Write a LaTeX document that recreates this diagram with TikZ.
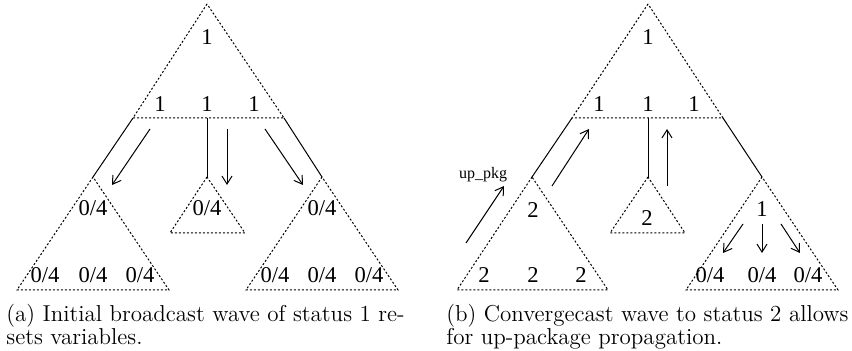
\documentclass[tikz,border=0pt]{standalone}
\usepackage{fontspec}
\newfontfamily\figfont{Liberation Serif}
\usetikzlibrary{arrows.meta}
\tikzset{
  tri/.style={line width=0.5pt, dash pattern=on 1pt off 1pt},
  edge/.style={line width=0.5pt},
  msg/.style={line width=0.5pt, -{Straight Barb[length=4pt,width=5pt]}},
  lab/.style={font=\figfont\fontsize{11.3}{12}\selectfont, inner sep=0pt},
  smalllab/.style={font=\figfont\fontsize{8}{9}\selectfont, inner sep=0pt},
  captext/.style={font=\fontsize{11.5}{14}\selectfont, inner sep=0pt, anchor=base west},
}
\begin{document}
\begin{tikzpicture}[x=0.5pt,y=-0.5pt]
\useasboundingbox (0,0) rectangle (852,351);
% ---------- panel (a)
\begin{scope}
\coordinate (A) at (207,4);
\coordinate (AL) at (133,118);
\coordinate (AR) at (284,118);
\coordinate (AM) at (207,118);
\draw[tri] (A) -- (AL) -- (AR) -- cycle;
\node[lab] (a1) at (207,37) {1};
\node[lab] (a2) at (160,104) {1};
\node[lab] (a3) at (207,104) {1};
\node[lab] (a4) at (254,104) {1};
% subtrees
\coordinate (L) at (93,177); \coordinate (LL) at (17,290); \coordinate (LR) at (169,290);
\coordinate (C) at (207,177); \coordinate (CL) at (170,233); \coordinate (CR) at (245,233);
\coordinate (R) at (322,177); \coordinate (RL) at (246,290); \coordinate (RR) at (398,290);
\draw[tri] (L) -- (LL) -- (LR) -- cycle;
\draw[tri] (C) -- (CL) -- (CR) -- cycle;
\draw[tri] (R) -- (RL) -- (RR) -- cycle;
\draw[edge] (AL) -- (L);
\draw[edge] (AM) -- (C);
\draw[edge] (AR) -- (R);
\node[lab] (l1) at (93,208) {0/4};
\node[lab] (l2) at (45,275) {0/4};
\node[lab] (l3) at (93,275) {0/4};
\node[lab] (l4) at (140,275) {0/4};
\node[lab] (c1) at (207,208) {0/4};
\node[lab] (r1) at (322,208) {0/4};
\node[lab] (r2) at (275,275) {0/4};
\node[lab] (r3) at (322,275) {0/4};
\node[lab] (r4) at (369,275) {0/4};
\coordinate (m1s) at (150,129); \coordinate (m1e) at (112,185);
\coordinate (m2s) at (227,129); \coordinate (m2e) at (227,185);
\coordinate (m3s) at (265,129); \coordinate (m3e) at (303,185);
\draw[msg] (m1s) -- (m1e);
\draw[msg] (m2s) -- (m2e);
\draw[msg] (m3s) -- (m3e);
\node[captext] (capa1) at (6,322) {(a) Initial broadcast wave of status 1 re-};
\node[captext] (capa2) at (6,345) {sets variables.};
\end{scope}
% ---------- panel (b)
\begin{scope}
\coordinate (B) at (648,4);
\coordinate (BL) at (572,118);
\coordinate (BR) at (723,118);
\coordinate (BM) at (648,118);
\draw[tri] (B) -- (BL) -- (BR) -- cycle;
\node[lab] (b1) at (648,37) {1};
\node[lab] (b2) at (599,104) {1};
\node[lab] (b3) at (648,104) {1};
\node[lab] (b4) at (694,104) {1};
\coordinate (L2) at (532,177); \coordinate (L2L) at (457,290); \coordinate (L2R) at (608,290);
\coordinate (C2) at (648,177); \coordinate (C2L) at (610,233); \coordinate (C2R) at (685,233);
\coordinate (R2) at (762,177); \coordinate (R2L) at (686,290); \coordinate (R2R) at (838,290);
\draw[tri] (L2) -- (L2L) -- (L2R) -- cycle;
\draw[tri] (C2) -- (C2L) -- (C2R) -- cycle;
\draw[tri] (R2) -- (R2L) -- (R2R) -- cycle;
\draw[edge] (BL) -- (L2);
\draw[edge] (BM) -- (C2);
\draw[edge] (BR) -- (R2);
\node[lab] (p1) at (533,210) {2};
\node[lab] (p2) at (484,275) {2};
\node[lab] (p3) at (533,275) {2};
\node[lab] (p4) at (581,275) {2};
\node[lab] (q1) at (647,218) {2};
\node[lab] (s1) at (762,209) {1};
\node[lab] (s2) at (710,275) {0/4};
\node[lab] (s3) at (762,275) {0/4};
\node[lab] (s4) at (808,275) {0/4};
\node[smalllab] (up) at (483,175) {up\_pkg};
\coordinate (n1s) at (466,243); \coordinate (n1e) at (504,186);
\coordinate (n2s) at (552,186); \coordinate (n2e) at (589,129);
\coordinate (n3s) at (667,186); \coordinate (n3e) at (667,129);
\coordinate (n4s) at (743,224); \coordinate (n4e) at (723,253);
\coordinate (n5s) at (762,224); \coordinate (n5e) at (762,253);
\coordinate (n6s) at (781,224); \coordinate (n6e) at (800,253);
\draw[msg] (n1s) -- (n1e);
\draw[msg] (n2s) -- (n2e);
\draw[msg] (n3s) -- (n3e);
\draw[msg] (n4s) -- (n4e);
\draw[msg] (n5s) -- (n5e);
\draw[msg] (n6s) -- (n6e);
\node[captext] (capb1) at (446,322) {(b) Convergecast wave to status 2 allows};
\node[captext] (capb2) at (446,345) {for up-package propagation.};
\end{scope}
\end{tikzpicture}
\end{document}
